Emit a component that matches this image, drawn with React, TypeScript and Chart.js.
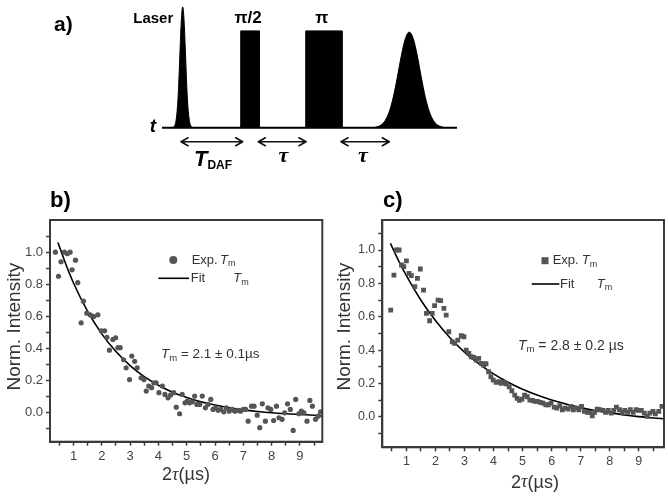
import React, { useEffect, useRef } from 'react';
import { Chart, registerables } from 'chart.js';

Chart.register(...registerables);

// ---------------- Panel a: pulse sequence (time: arbitrary units, amplitude: normalised) ----------------
const BASELINE_T = [1.2, 30.7];
const BASELINE_A = [0, 0];
const LASER_T = [2.25, 2.43, 2.57, 2.71, 2.85, 2.99, 3.13, 3.27, 3.41, 3.55, 3.69, 3.83, 3.97, 4.11, 4.3];
const LASER_A = [0, 0.011, 0.044, 0.135, 0.32, 0.61, 0.88, 1.0, 0.88, 0.61, 0.32, 0.135, 0.044, 0.011, 0];
const PI2_T = [9.07, 9.07, 10.93, 10.93];
const PI2_A = [0, 0.8, 0.8, 0];
const PI_T = [15.57, 15.57, 19.2, 19.2];
const PI_A = [0, 0.8, 0.8, 0];
const ECHO_T = [22.33, 22.73, 23.13, 23.53, 23.93, 24.33, 24.73, 25.13, 25.53, 25.93, 26.33, 26.73, 27.13, 27.53, 27.93, 28.33, 28.73, 29.13, 29.53];
const ECHO_A = [0, 0.008, 0.024, 0.061, 0.133, 0.253, 0.416, 0.594, 0.735, 0.79, 0.735, 0.594, 0.416, 0.253, 0.133, 0.061, 0.024, 0.008, 0];
const ARROW_START = [3.1, 10.83, 19.1];
const ARROW_END = [9.27, 15.6, 23.93];
const ARROW_LEVEL = -0.116;

// ---------------- Panel b data ----------------
const EXP_B_X = [0.36, 0.47, 0.56, 0.68, 0.78, 0.88, 0.95, 1.07, 1.15, 1.27, 1.35, 1.47, 1.59, 1.71, 1.86, 1.98, 2.10, 2.18, 2.27, 2.39, 2.49, 2.57, 2.65, 2.77, 2.86, 2.98, 3.06, 3.16, 3.25, 3.39, 3.49, 3.57, 3.66, 3.76, 3.84, 3.92, 4.02, 4.14, 4.23, 4.34, 4.43, 4.54, 4.63, 4.75, 4.84, 4.94, 5.02, 5.10, 5.20, 5.28, 5.36, 5.46, 5.55, 5.66, 5.75, 5.85, 5.93, 6.02, 6.11, 6.20, 6.31, 6.40, 6.50, 6.60, 6.70, 6.81, 6.90, 7.00, 7.08, 7.17, 7.29, 7.38, 7.49, 7.58, 7.67, 7.78, 7.87, 7.97, 8.07, 8.17, 8.26, 8.37, 8.46, 8.56, 8.66, 8.76, 8.85, 8.96, 9.05, 9.14, 9.25, 9.35, 9.44, 9.55, 9.64, 9.73];
const EXP_B_Y = [1.0, 0.85, 0.94, 1.0, 0.99, 1.0, 0.89, 0.95, 0.81, 0.56, 0.695, 0.62, 0.61, 0.60, 0.61, 0.51, 0.51, 0.47, 0.39, 0.456, 0.467, 0.405, 0.405, 0.33, 0.28, 0.207, 0.353, 0.32, 0.28, 0.218, 0.207, 0.135, 0.166, 0.156, 0.187, 0.187, 0.125, 0.166, 0.114, 0.093, 0.11, 0.125, 0.035, -0.006, 0.114, 0.062, 0.073, 0.062, 0.068, 0.104, 0.052, 0.052, 0.104, 0.031, 0.052, 0.083, 0.021, 0.031, 0.015, 0.021, 0.006, 0.031, 0.01, 0.021, 0.01, 0.015, 0.01, 0.021, 0.021, -0.052, 0.041, 0.041, -0.015, -0.093, 0.056, -0.052, 0.031, 0.021, -0.048, 0.041, -0.031, -0.041, 0, 0.056, 0.021, -0.11, 0.083, -0.006, 0.01, 0, -0.052, 0.077, 0.041, -0.041, -0.021, 0.006];
const FIT_B_X = [0.45, 0.75, 1, 1.5, 2, 2.5, 3, 3.5, 4, 4.5, 5, 5.5, 6, 6.5, 7, 7.5, 8, 8.5, 9, 9.5, 9.8];
const FIT_B_Y = [1.06, 0.915, 0.808, 0.631, 0.491, 0.381, 0.294, 0.225, 0.171, 0.128, 0.095, 0.068, 0.048, 0.031, 0.018, 0.008, 0.0, -0.006, -0.011, -0.015, -0.02];

// ---------------- Panel c data ----------------
const EXP_C_X = [0.46, 0.57, 0.66, 0.75, 0.83, 0.91, 1.0, 1.09, 1.17, 1.29, 1.38, 1.48, 1.59, 1.69, 1.80, 1.89, 1.97, 2.09, 2.18, 2.29, 2.37, 2.46, 2.58, 2.66, 2.77, 2.89, 2.98, 3.06, 3.15, 3.23, 3.32, 3.40, 3.49, 3.58, 3.66, 3.74, 3.83, 3.91, 3.99, 4.09, 4.18, 4.26, 4.34, 4.43, 4.54, 4.63, 4.73, 4.81, 4.89, 4.98, 5.07, 5.16, 5.25, 5.34, 5.42, 5.51, 5.61, 5.70, 5.80, 5.89, 5.98, 6.09, 6.18, 6.28, 6.37, 6.46, 6.57, 6.66, 6.75, 6.85, 6.94, 7.03, 7.13, 7.23, 7.32, 7.40, 7.48, 7.57, 7.66, 7.77, 7.86, 7.95, 8.05, 8.14, 8.23, 8.34, 8.43, 8.52, 8.62, 8.71, 8.81, 8.91, 9.0, 9.09, 9.19, 9.29, 9.38, 9.49, 9.57, 9.69, 9.80];
const EXP_C_Y = [0.64, 0.85, 1.0, 1.0, 0.91, 0.90, 0.935, 0.86, 0.846, 0.78, 0.83, 0.886, 0.76, 0.62, 0.576, 0.62, 0.666, 0.70, 0.696, 0.65, 0.61, 0.51, 0.45, 0.44, 0.46, 0.486, 0.48, 0.40, 0.38, 0.36, 0.356, 0.34, 0.35, 0.32, 0.31, 0.318, 0.27, 0.24, 0.22, 0.206, 0.21, 0.20, 0.206, 0.198, 0.18, 0.156, 0.13, 0.11, 0.098, 0.106, 0.13, 0.12, 0.10, 0.098, 0.092, 0.092, 0.086, 0.082, 0.072, 0.072, 0.082, 0.058, 0.052, 0.066, 0.042, 0.052, 0.046, 0.062, 0.042, 0.052, 0.042, 0.062, 0.032, 0.026, 0.026, 0.006, 0.026, 0.046, 0.042, 0.038, 0.026, 0.038, 0.022, 0.038, 0.058, 0.042, 0.026, 0.038, 0.026, 0.042, 0.026, 0.042, 0.038, 0.038, 0.022, 0.002, 0.022, 0.032, 0.018, 0.032, 0.062];
const FIT_C_X = [0.45, 0.75, 1, 1.5, 2, 2.5, 3, 3.5, 4, 4.5, 5, 5.5, 6, 6.5, 7, 7.5, 8, 8.5, 9, 9.5, 9.87];
const FIT_C_Y = [1.04, 0.929, 0.846, 0.699, 0.577, 0.474, 0.388, 0.317, 0.257, 0.207, 0.165, 0.130, 0.100, 0.076, 0.055, 0.038, 0.024, 0.011, 0.001, -0.007, -0.012];

// ---------------- Ticks ----------------
const X_MAJOR = [1, 2, 3, 4, 5, 6, 7, 8, 9];
const X_MINOR = [0.5, 1.5, 2.5, 3.5, 4.5, 5.5, 6.5, 7.5, 8.5, 9.5];
const Y_MAJOR = [0, 0.2, 0.4, 0.6, 0.8, 1.0];
const Y_MINOR = [-0.1, 0.1, 0.3, 0.5, 0.7, 0.9, 1.1];

const SANS = '"Liberation Sans", Arial, sans-serif';
const SERIF = '"Liberation Serif", "Times New Roman", serif';
const AXIS = '#3a3a3a';
const TEXT = '#333';

const pts = (xs: number[], ys: number[]) => xs.map((x, i) => ({ x, y: ys[i] }));
const isIn = (arr: number[], v: number) => arr.some((a) => Math.abs(a - v) < 1e-6);

type Seg = { text: string; font: string; dy?: number };
function drawRich(ctx: CanvasRenderingContext2D, x: number, y: number, segs: Seg[], align: 'left' | 'center' = 'left') {
  let total = 0;
  for (const s of segs) {
    ctx.font = s.font;
    total += ctx.measureText(s.text).width;
  }
  let cx = align === 'center' ? x - total / 2 : x;
  ctx.textAlign = 'left';
  ctx.textBaseline = 'middle';
  for (const s of segs) {
    ctx.font = s.font;
    ctx.fillText(s.text, cx, y + (s.dy || 0));
    cx += ctx.measureText(s.text).width;
  }
}

function drawDoubleArrow(ctx: CanvasRenderingContext2D, x1: number, x2: number, y: number) {
  const h = 7;
  const w = 4;
  ctx.save();
  ctx.strokeStyle = '#111';
  ctx.lineWidth = 1.6;
  ctx.lineCap = 'round';
  ctx.lineJoin = 'round';
  ctx.beginPath();
  ctx.moveTo(x1, y);
  ctx.lineTo(x2, y);
  ctx.moveTo(x1 + h, y - w);
  ctx.lineTo(x1, y);
  ctx.lineTo(x1 + h, y + w);
  ctx.moveTo(x2 - h, y - w);
  ctx.lineTo(x2, y);
  ctx.lineTo(x2 - h, y + w);
  ctx.stroke();
  ctx.restore();
}

const pulseAnno = {
  id: 'pulseAnno',
  afterDatasetsDraw(chart: any) {
    const { ctx, scales } = chart;
    const X = (t: number) => scales.x.getPixelForValue(t);
    const Y = (a: number) => scales.y.getPixelForValue(a);
    ARROW_START.forEach((t, i) => drawDoubleArrow(ctx, X(t), X(ARROW_END[i]), Y(ARROW_LEVEL)));
    ctx.save();
    ctx.fillStyle = '#000';
    ctx.textBaseline = 'middle';
    ctx.font = `bold 15px ${SANS}`;
    ctx.textAlign = 'right';
    ctx.fillText('Laser', X(2.33), Y(0.898));
    ctx.textAlign = 'center';
    ctx.font = `bold 17px ${SANS}`;
    ctx.fillText('π/2', X(9.8), Y(0.907));
    ctx.fillText('π', X(17.17), Y(0.907));
    ctx.font = `bold italic 19px ${SANS}`;
    ctx.fillText('t', X(0.3), Y(0.006));
    ctx.font = `bold italic 22px ${SERIF}`;
    ctx.fillText('τ', X(13.35), Y(-0.234));
    ctx.fillText('τ', X(21.3), Y(-0.234));
    drawRich(ctx, X(4.4), Y(-0.267), [
      { text: 'T', font: `bold italic 22px ${SANS}` },
      { text: 'DAF', font: `bold 12px ${SANS}`, dy: 6 },
    ]);
    ctx.font = `bold 21px ${SANS}`;
    ctx.textAlign = 'left';
    ctx.fillText('a)', 54, 25);
    ctx.restore();
  },
};

function PulseChart() {
  const ref = useRef<HTMLCanvasElement>(null);
  useEffect(() => {
    const mk = (xs: number[], ys: number[], bw: number, fill: boolean, smooth: boolean) => ({
      data: pts(xs, ys),
      borderColor: '#000',
      backgroundColor: '#000',
      borderWidth: bw,
      pointRadius: 0,
      fill: fill ? 'origin' : false,
      tension: 0,
      cubicInterpolationMode: smooth ? 'monotone' : 'default',
    });
    const chart = new Chart(ref.current as HTMLCanvasElement, {
      type: 'line',
      data: {
        datasets: [
          mk(BASELINE_T, BASELINE_A, 2, false, false),
          mk(LASER_T, LASER_A, 1, true, true),
          mk(PI2_T, PI2_A, 1, true, false),
          mk(PI_T, PI_A, 1, true, false),
          mk(ECHO_T, ECHO_A, 1, true, true),
        ] as any,
      },
      options: {
        responsive: false,
        animation: false,
        events: [],
        layout: { padding: { left: 150, right: 198, top: 6.7, bottom: 7.85 } },
        plugins: { legend: { display: false }, tooltip: { enabled: false } },
        scales: {
          x: { type: 'linear', min: 0, max: 32, display: false },
          y: { type: 'linear', min: -0.45, max: 1, display: false },
        },
      } as any,
      plugins: [pulseAnno as any],
    });
    return () => chart.destroy();
  }, []);
  return <canvas ref={ref} width={668} height={190} style={{ position: 'absolute', left: 0, top: 0, width: 668, height: 190 }} />;
}

type Spec = {
  left: number;
  top: number;
  pad: { left: number; top: number; right: number; bottom: number };
  yWidth: number;
  xHeight: number;
  xMin: number;
  xMax: number;
  yMin: number;
  yMax: number;
  expX: number[];
  expY: number[];
  fitX: number[];
  fitY: number[];
  pointStyle: string;
  pointRadius: number;
  tickSize: number;
  label: string;
  labelPos: [number, number];
  marker: [number, number];
  expTextX: number;
  expTX: number;
  fitLine: [number, number, number];
  fitTextX: number;
  fitTX: number;
  annoPos: [number, number];
  annoText: string;
  annoSize: number;
  xTitlePos: [number, number];
  yTitlePos: [number, number];
};

const SPEC_B: Spec = {
  left: 0,
  top: 190,
  pad: { left: 0, top: 30, right: 11.7, bottom: 0 },
  yWidth: 50,
  xHeight: 54.3,
  xMin: 0.17,
  xMax: 9.79,
  yMin: -0.18,
  yMax: 1.2,
  expX: EXP_B_X,
  expY: EXP_B_Y,
  fitX: FIT_B_X,
  fitY: FIT_B_Y,
  pointStyle: 'circle',
  pointRadius: 2.6,
  tickSize: 13,
  label: 'b)',
  labelPos: [50, 11],
  marker: [173.3, 70],
  expTextX: 191.7,
  expTX: 220,
  fitLine: [158.3, 189, 88.3],
  fitTextX: 190.7,
  fitTX: 233.3,
  annoPos: [161, 164],
  annoText: ' = 2.1 ± 0.1µs',
  annoSize: 13.5,
  xTitlePos: [186, 285.3],
  yTitlePos: [15, 136.7],
};

const SPEC_C: Spec = {
  left: 334,
  top: 190,
  pad: { left: 0, top: 30, right: 0.7, bottom: 0 },
  yWidth: 48.3,
  xHeight: 48.7,
  xMin: 0.17,
  xMax: 9.87,
  yMin: -0.183,
  yMax: 1.18,
  expX: EXP_C_X,
  expY: EXP_C_Y,
  fitX: FIT_C_X,
  fitY: FIT_C_Y,
  pointStyle: 'rect',
  pointRadius: 3.4,
  tickSize: 12.5,
  label: 'c)',
  labelPos: [49, 11],
  marker: [211, 70.7],
  expTextX: 218.7,
  expTX: 247.7,
  fitLine: [197.7, 225.3, 94],
  fitTextX: 226,
  fitTX: 262.7,
  annoPos: [184, 155.7],
  annoText: ' = 2.8 ± 0.2 µs',
  annoSize: 14,
  xTitlePos: [201, 292.7],
  yTitlePos: [11, 136.7],
};

function makeDecayPlugin(s: Spec) {
  return {
    id: 'decayAnno',
    afterDatasetsDraw(chart: any) {
      const { ctx, chartArea } = chart;
      const { left, top, right, bottom } = chartArea;
      ctx.save();
      // frame
      ctx.strokeStyle = AXIS;
      ctx.lineWidth = 2;
      ctx.strokeRect(left, top, right - left, bottom - top);
      ctx.fillStyle = '#000';
      // panel label
      ctx.font = `bold 22px ${SANS}`;
      ctx.textAlign = 'left';
      ctx.textBaseline = 'middle';
      ctx.fillText(s.label, s.labelPos[0], s.labelPos[1]);
      // legend marker
      ctx.fillStyle = '#555';
      const [mx, my] = s.marker;
      if (s.pointStyle === 'circle') {
        ctx.beginPath();
        ctx.arc(mx, my, 4, 0, Math.PI * 2);
        ctx.fill();
      } else {
        ctx.fillRect(mx - 3.5, my - 3.5, 7, 7);
      }
      // legend line
      ctx.strokeStyle = '#000';
      ctx.lineWidth = 1.6;
      ctx.beginPath();
      ctx.moveTo(s.fitLine[0], s.fitLine[2]);
      ctx.lineTo(s.fitLine[1], s.fitLine[2]);
      ctx.stroke();
      ctx.fillStyle = TEXT;
      const F = `13px ${SANS}`;
      const I = `italic 13px ${SANS}`;
      const SUB = `9px ${SANS}`;
      drawRich(ctx, s.expTextX, my, [{ text: 'Exp.', font: F }]);
      drawRich(ctx, s.expTX, my, [{ text: 'T', font: I }, { text: 'm', font: SUB, dy: 4 }]);
      drawRich(ctx, s.fitTextX, s.fitLine[2], [{ text: 'Fit', font: F }]);
      drawRich(ctx, s.fitTX, s.fitLine[2], [{ text: 'T', font: I }, { text: 'm', font: SUB, dy: 4 }]);
      // annotation
      drawRich(ctx, s.annoPos[0], s.annoPos[1], [
        { text: 'T', font: `italic ${s.annoSize}px ${SANS}` },
        { text: 'm', font: `9.5px ${SANS}`, dy: 4 },
        { text: s.annoText, font: `${s.annoSize}px ${SANS}` },
      ]);
      // x title
      drawRich(
        ctx,
        s.xTitlePos[0],
        s.xTitlePos[1],
        [
          { text: '2', font: `18px ${SANS}` },
          { text: 'τ', font: `italic 18px ${SERIF}` },
          { text: '(µs)', font: `18px ${SANS}` },
        ],
        'center'
      );
      // y title
      ctx.translate(s.yTitlePos[0], s.yTitlePos[1]);
      ctx.rotate(-Math.PI / 2);
      ctx.font = `19px ${SANS}`;
      ctx.textAlign = 'center';
      ctx.textBaseline = 'middle';
      ctx.fillText('Norm. Intensity', 0, 0);
      ctx.restore();
    },
  };
}

function DecayChart({ spec }: { spec: Spec }) {
  const ref = useRef<HTMLCanvasElement>(null);
  useEffect(() => {
    const tickFont = { family: SANS, size: spec.tickSize };
    const chart = new Chart(ref.current as HTMLCanvasElement, {
      type: 'scatter',
      data: {
        datasets: [
          {
            data: pts(spec.expX, spec.expY),
            pointStyle: spec.pointStyle,
            pointRadius: spec.pointRadius,
            backgroundColor: '#555',
            borderColor: '#555',
            borderWidth: 0,
          },
          {
            data: pts(spec.fitX, spec.fitY),
            showLine: true,
            pointRadius: 0,
            borderColor: '#000',
            borderWidth: 1.6,
            cubicInterpolationMode: 'monotone',
          },
        ] as any,
      },
      options: {
        responsive: false,
        animation: false,
        events: [],
        layout: { padding: spec.pad },
        plugins: { legend: { display: false }, tooltip: { enabled: false } },
        scales: {
          x: {
            type: 'linear',
            min: spec.xMin,
            max: spec.xMax,
            afterFit: (sc: any) => {
              sc.height = spec.xHeight;
            },
            afterBuildTicks: (sc: any) => {
              sc.ticks = [...X_MINOR, ...X_MAJOR].sort((a, b) => a - b).map((v) => ({ value: v }));
            },
            ticks: {
              autoSkip: false,
              maxRotation: 0,
              padding: 3,
              color: '#444',
              font: tickFont,
              callback: (v: any) => (isIn(X_MAJOR, Number(v)) ? String(Math.round(Number(v))) : ''),
            },
            grid: { drawOnChartArea: false, drawTicks: true, tickLength: 4, tickColor: AXIS, tickWidth: 1.5 },
            border: { display: true, color: AXIS, width: 2 },
          },
          y: {
            type: 'linear',
            min: spec.yMin,
            max: spec.yMax,
            afterFit: (sc: any) => {
              sc.width = spec.yWidth;
            },
            afterBuildTicks: (sc: any) => {
              sc.ticks = [...Y_MINOR, ...Y_MAJOR].sort((a, b) => a - b).map((v) => ({ value: v }));
            },
            ticks: {
              autoSkip: false,
              padding: 3,
              color: '#444',
              font: tickFont,
              callback: (v: any) => (isIn(Y_MAJOR, Number(v)) ? Number(v).toFixed(1) : ''),
            },
            grid: { drawOnChartArea: false, drawTicks: true, tickLength: 4, tickColor: AXIS, tickWidth: 1.5 },
            border: { display: true, color: AXIS, width: 2 },
          },
        },
      } as any,
      plugins: [makeDecayPlugin(spec) as any],
    });
    return () => chart.destroy();
  }, [spec]);
  return (
    <canvas
      ref={ref}
      width={334}
      height={306}
      style={{ position: 'absolute', left: spec.left, top: spec.top, width: 334, height: 306 }}
    />
  );
}

export default function App() {
  return (
    <div style={{ position: 'absolute', left: 0, top: 0, width: 668, height: 496, background: '#fff', overflow: 'hidden' }}>
      <PulseChart />
      <DecayChart spec={SPEC_B} />
      <DecayChart spec={SPEC_C} />
    </div>
  );
}
